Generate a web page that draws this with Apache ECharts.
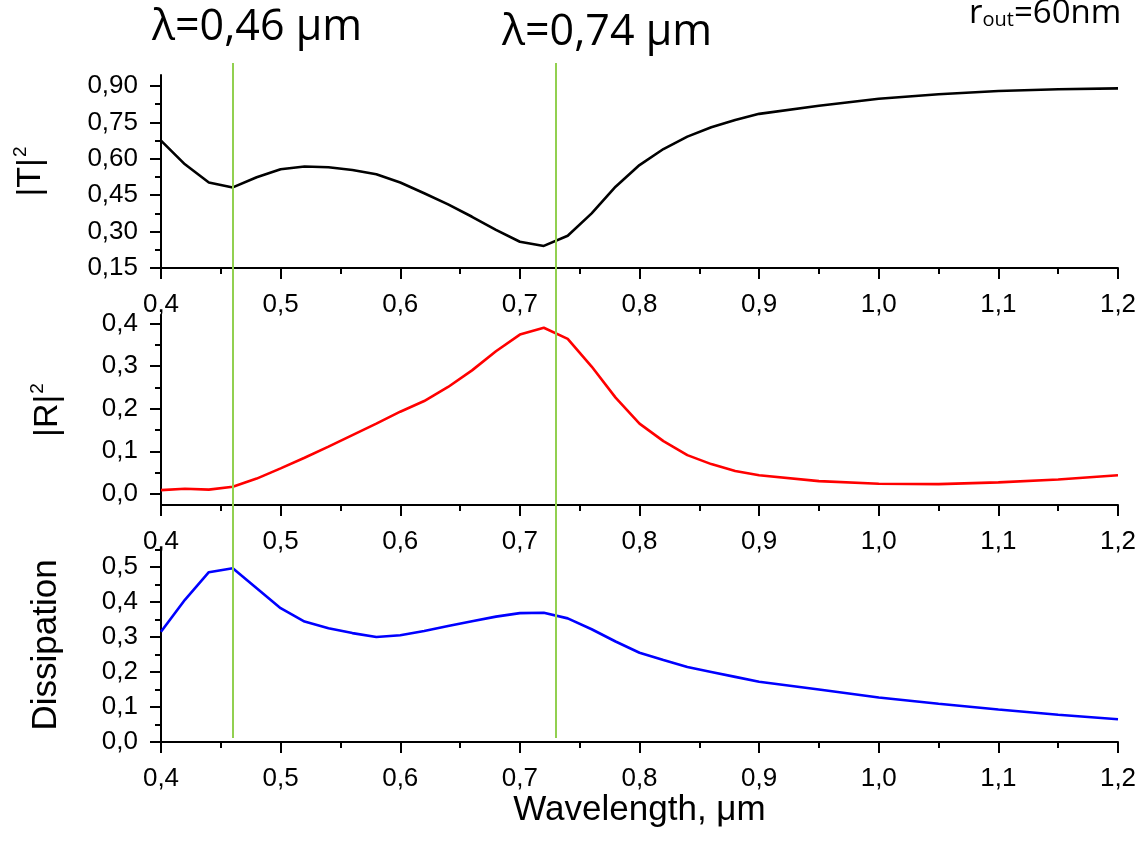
<!DOCTYPE html>
<html><head><meta charset="utf-8">
<script src="https://cdn.jsdelivr.net/npm/echarts@6/dist/echarts.min.js"></script>
<style>html,body{margin:0;padding:0;background:#fff}#c{width:1144px;height:854px}</style>
</head><body><div id="c"></div>
<script>
// ---- data ----
const wavelength = [0.40,0.42,0.44,0.46,0.48,0.50,0.52,0.54,0.56,0.58,0.60,0.62,0.64,0.66,0.68,0.70,0.72,0.74,0.76,0.78,0.80,0.82,0.84,0.86,0.88,0.90,0.95,1.00,1.05,1.10,1.15,1.20];
const transmission = [0.675,0.577,0.502,0.482,0.524,0.557,0.568,0.565,0.554,0.536,0.502,0.458,0.412,0.361,0.307,0.258,0.241,0.283,0.375,0.485,0.574,0.640,0.691,0.730,0.760,0.785,0.818,0.847,0.866,0.879,0.886,0.890];
const reflection = [0.009,0.012,0.010,0.017,0.036,0.060,0.085,0.111,0.138,0.165,0.193,0.218,0.251,0.290,0.335,0.374,0.390,0.364,0.299,0.226,0.165,0.124,0.091,0.070,0.054,0.044,0.030,0.024,0.023,0.027,0.034,0.044];
const dissipation = [0.315,0.406,0.485,0.496,0.439,0.382,0.344,0.325,0.311,0.300,0.305,0.317,0.331,0.345,0.358,0.368,0.369,0.353,0.322,0.287,0.255,0.234,0.214,0.200,0.186,0.172,0.150,0.127,0.109,0.093,0.078,0.065];
const markerWavelengths = [0.46, 0.733];
const markerLabels = ['λ=0,46 μm', 'λ=0,74 μm'];
const tMajor = [0.15,0.30,0.45,0.60,0.75,0.90];
const tMinor = [0.225,0.375,0.525,0.675,0.825];
const rMajor = [0.0,0.1,0.2,0.3,0.4];
const rMinor = [0.05,0.15,0.25,0.35];
const dMajor = [0.0,0.1,0.2,0.3,0.4,0.5];
const dMinor = [0.05,0.15,0.25,0.35,0.45,0.55];

const FONT = 'Liberation Sans';
const chart = echarts.init(document.getElementById('c'), null, {renderer: 'canvas'});
const axisLine = {show: true, lineStyle: {color: '#000', width: 2}};
const comma = d => v => v.toFixed(d).replace('.', ',');

function xAxis(gi, showName) {
  return {
    type: 'value', gridIndex: gi, min: 0.4, max: 1.2, interval: 0.1,
    axisLine: Object.assign({onZero: false}, axisLine),
    axisTick: {show: true, inside: false, length: 11, lineStyle: {color: '#000', width: 2}},
    minorTick: {show: true, splitNumber: 2, length: 6, lineStyle: {color: '#000', width: 2}},
    axisLabel: {formatter: comma(1), fontFamily: FONT, fontSize: 26, color: '#000', margin: 24},
    splitLine: {show: false}, minorSplitLine: {show: false},
    name: showName ? 'Wavelength, μm' : '', nameLocation: 'middle', nameGap: 46,
    nameTextStyle: {fontFamily: FONT, fontSize: 35, color: '#000'}
  };
}
function yMajor(gi, min, max, ticks, dec, name, gap, rich) {
  return {
    type: 'value', gridIndex: gi, position: 'left', min: min, max: max,
    axisLine: Object.assign({onZero: false}, axisLine),
    axisTick: {show: true, length: 11, customValues: ticks, lineStyle: {color: '#000', width: 2}},
    axisLabel: {customValues: ticks, formatter: comma(dec), fontFamily: FONT, fontSize: 26, color: '#000', margin: 23},
    splitLine: {show: false},
    name: name, nameLocation: 'middle', nameGap: gap, nameRotate: 90,
    nameTextStyle: Object.assign({fontFamily: FONT, fontSize: 35, color: '#000'}, rich ? {rich: rich} : {})
  };
}
function yMinor(gi, min, max, ticks) {
  return {
    type: 'value', gridIndex: gi, position: 'left', min: min, max: max,
    axisLine: {show: false},
    axisTick: {show: true, length: 6, customValues: ticks, lineStyle: {color: '#000', width: 2}},
    axisLabel: {show: false}, splitLine: {show: false}
  };
}
const supRich = {
  b: {fontFamily: FONT, fontSize: 34, color: '#000', lineHeight: 40},
  s: {fontFamily: FONT, fontSize: 19, color: '#000', verticalAlign: 'top', lineHeight: 40, padding: [0, 0, 12, 1]}
};
const pairs = arr => wavelength.map((x, i) => [x, arr[i]]);

const option = {
  animation: false,
  backgroundColor: '#fff',
  grid: [
    {left: 161, right: 26, top: 75, height: 193},
    {left: 161, right: 26, top: 315, height: 190},
    {left: 161, right: 26, top: 548, height: 194},
    {left: 161, right: 26, top: 63, bottom: 116}
  ],
  xAxis: [
    xAxis(0, false), xAxis(1, false), xAxis(2, true),
    {type: 'value', gridIndex: 3, min: 0.4, max: 1.2, show: false}
  ],
  yAxis: [
    yMajor(0, 0.15, 0.945, tMajor, 2, '{b||T|}{s|2}', 110, supRich),
    yMinor(0, 0.15, 0.945, tMinor),
    yMajor(1, -0.026, 0.42, rMajor, 1, '{b||R|}{s|2}', 93, supRich),
    yMinor(1, -0.026, 0.42, rMinor),
    yMajor(2, 0, 0.554, dMajor, 1, 'Dissipation', 97, null),
    yMinor(2, 0, 0.554, dMinor),
    {type: 'value', gridIndex: 3, min: 0, max: 1, show: false}
  ],
  series: [
    {type: 'line', xAxisIndex: 0, yAxisIndex: 0, data: pairs(transmission), symbol: 'none', lineStyle: {color: '#000', width: 2.6}, silent: true},
    {type: 'line', xAxisIndex: 1, yAxisIndex: 2, data: pairs(reflection), symbol: 'none', lineStyle: {color: '#ff0000', width: 2.6}, silent: true},
    {type: 'line', xAxisIndex: 2, yAxisIndex: 4, data: pairs(dissipation), symbol: 'none', lineStyle: {color: '#0000ff', width: 2.6}, silent: true},
    {type: 'line', xAxisIndex: 3, yAxisIndex: 6, data: [], symbol: 'none', silent: true,
     markLine: {silent: true, symbol: ['none', 'none'], label: {show: false},
       lineStyle: {color: '#92d050', width: 2, type: 'solid'},
       data: markerWavelengths.map(v => ({xAxis: v}))}}
  ],
  graphic: [
    {type: 'text', left: 152, top: 6, style: {text: markerLabels[0], font: '43px "Open Sans"', fill: '#000'}},
    {type: 'text', left: 502, top: 11, style: {text: markerLabels[1], font: '43px "Open Sans"', fill: '#000'}},
    {type: 'text', left: 969, top: -3, style: {
      text: '{r|r}{s|out}{r|=60nm}',
      rich: {
        r: {fontFamily: 'Open Sans', fontSize: 33, fill: '#000', lineHeight: 40, verticalAlign: 'bottom'},
        s: {fontFamily: 'Open Sans', fontSize: 20, fill: '#000', lineHeight: 40, verticalAlign: 'bottom'}
      }}}
  ]
};
chart.setOption(option);
</script>
</body></html>
